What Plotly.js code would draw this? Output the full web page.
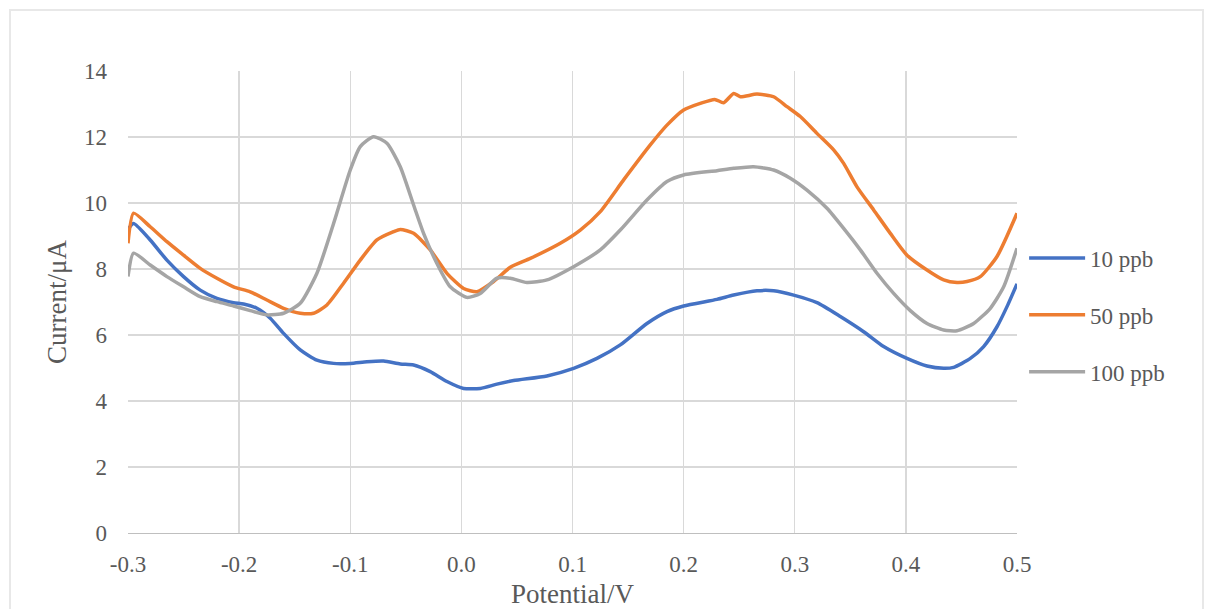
<!DOCTYPE html>
<html>
<head>
<meta charset="utf-8">
<script src="https://cdn.plot.ly/plotly-3.0.1.min.js"></script>
<style>html,body{margin:0;padding:0;background:#fff;}#chart{width:1209px;height:609px;}</style>
</head>
<body>
<div id="chart"></div>
<script>
const seriesNames = ["10 ppb", "50 ppb", "100 ppb"];

const x10 = [-0.300,-0.295,-0.280,-0.265,-0.250,-0.235,-0.220,-0.205,-0.196,-0.184,-0.172,-0.160,-0.145,-0.130,-0.115,-0.100,-0.085,-0.070,-0.055,-0.043,-0.028,-0.013,0.002,0.017,0.032,0.047,0.077,0.101,0.122,0.143,0.167,0.185,0.200,0.230,0.245,0.266,0.281,0.299,0.320,0.341,0.362,0.380,0.401,0.419,0.434,0.443,0.458,0.470,0.482,0.491,0.500];
const y10 = [9.20,9.38,8.88,8.27,7.77,7.36,7.11,6.98,6.94,6.81,6.51,6.05,5.55,5.24,5.14,5.14,5.19,5.21,5.12,5.09,4.89,4.59,4.38,4.38,4.51,4.62,4.76,4.99,5.29,5.70,6.35,6.71,6.88,7.08,7.21,7.34,7.34,7.21,6.98,6.56,6.10,5.65,5.29,5.06,4.99,5.02,5.29,5.65,6.25,6.86,7.55];

const x50 = [-0.300,-0.295,-0.280,-0.265,-0.250,-0.235,-0.220,-0.205,-0.190,-0.175,-0.160,-0.145,-0.133,-0.121,-0.106,-0.091,-0.076,-0.061,-0.055,-0.043,-0.028,-0.013,0.002,0.014,0.029,0.044,0.062,0.089,0.107,0.125,0.146,0.170,0.185,0.200,0.215,0.228,0.236,0.245,0.251,0.266,0.281,0.293,0.305,0.320,0.335,0.344,0.356,0.371,0.386,0.401,0.419,0.434,0.446,0.455,0.467,0.482,0.500];
const y50 = [8.78,9.69,9.28,8.83,8.42,8.02,7.72,7.46,7.31,7.06,6.81,6.66,6.66,6.91,7.57,8.27,8.88,9.13,9.20,9.08,8.58,7.87,7.41,7.31,7.62,8.05,8.32,8.78,9.18,9.74,10.70,11.76,12.36,12.82,13.02,13.14,13.04,13.32,13.22,13.30,13.22,12.92,12.62,12.11,11.61,11.20,10.49,9.79,9.08,8.42,7.97,7.67,7.59,7.62,7.77,8.38,9.69];

const x100 = [-0.300,-0.295,-0.280,-0.265,-0.250,-0.235,-0.220,-0.205,-0.190,-0.175,-0.160,-0.145,-0.130,-0.115,-0.100,-0.091,-0.079,-0.067,-0.055,-0.043,-0.034,-0.022,-0.010,0.005,0.017,0.032,0.044,0.059,0.077,0.101,0.125,0.143,0.167,0.185,0.200,0.230,0.245,0.263,0.281,0.296,0.311,0.329,0.344,0.359,0.374,0.389,0.404,0.419,0.434,0.446,0.461,0.476,0.488,0.500];
const y100 = [7.77,8.48,8.12,7.77,7.46,7.16,7.01,6.88,6.74,6.61,6.66,6.96,7.87,9.38,11.00,11.71,12.01,11.81,11.10,9.94,9.08,8.17,7.46,7.14,7.26,7.72,7.72,7.59,7.67,8.07,8.58,9.18,10.09,10.65,10.85,10.98,11.05,11.10,11.00,10.75,10.39,9.84,9.23,8.58,7.87,7.26,6.74,6.35,6.15,6.13,6.35,6.81,7.46,8.63];

const colors = ["#4472C4", "#ED7D31", "#A5A5A5"];
const xTickVals = [-0.3,-0.2,-0.1,0.0,0.1,0.2,0.3,0.4,0.5];
const xTickText = ["-0.3","-0.2","-0.1","0.0","0.1","0.2","0.3","0.4","0.5"];
const yTickVals = [0,2,4,6,8,10,12,14];
const yTickText = ["0","2","4","6","8","10","12","14"];

const xs = [x10, x50, x100];
const ys = [y10, y50, y100];

const traces = seriesNames.map((n, i) => ({
  x: xs[i], y: ys[i], name: n, type: "scatter", mode: "lines",
  line: {color: colors[i], width: 3.5, shape: "spline", smoothing: 0.6},
  legendgroup: "g" + i
}));

const font = "Liberation Serif";
const pw = 889, ph = 462;
const layout = {
  width: 1209, height: 609,
  margin: {l: 128, r: 192, t: 71, b: 76},
  paper_bgcolor: "#ffffff", plot_bgcolor: "#ffffff",
  font: {family: font, color: "#595959", size: 22},
  showlegend: true,
  legend: {x: 1.008, y: 0.472, xanchor: "left", yanchor: "middle",
    font: {family: font, size: 23, color: "#595959"},
    traceorder: "grouped", tracegroupgap: 24, itemwidth: 56, bgcolor: "rgba(0,0,0,0)"},
  xaxis: {
    range: [-0.3, 0.5], tickvals: xTickVals, ticktext: xTickText,
    showgrid: true, gridcolor: "#d9d9d9", gridwidth: 1.3,
    zeroline: false, showline: true, linecolor: "#bfbfbf", linewidth: 1.3,
    ticks: "", ticklabelstandoff: 10,
    tickfont: {family: font, size: 23, color: "#595959"},
    title: {text: "Potential/V", font: {family: font, size: 27, color: "#595959"}, standoff: 12}
  },
  yaxis: {
    range: [0, 14], tickvals: yTickVals, ticktext: yTickText,
    showgrid: true, gridcolor: "#d9d9d9", gridwidth: 1.3,
    zeroline: false, showline: false,
    ticks: "", ticklabelstandoff: 20,
    tickfont: {family: font, size: 23, color: "#595959"},
    title: {text: "Current/μA", font: {family: font, size: 27, color: "#595959"}, standoff: 9}
  },
  shapes: [{
    type: "rect", xref: "paper", yref: "paper", layer: "below",
    x0: (10 - 128) / pw, x1: (1203 - 128) / pw,
    y0: (533 - 640) / ph, y1: (533 - 10) / ph,
    line: {color: "#e8e8e8", width: 2}, fillcolor: "rgba(0,0,0,0)"
  }]
};

Plotly.newPlot("chart", traces, layout, {displayModeBar: false, staticPlot: true});
</script>
</body>
</html>
